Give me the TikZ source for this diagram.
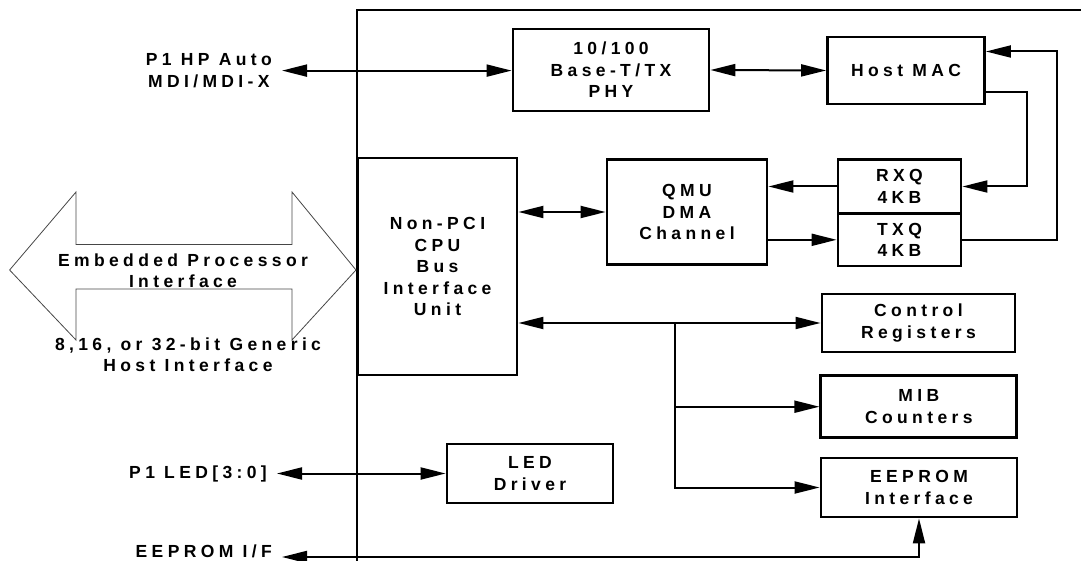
\documentclass[tikz,border=0pt]{standalone}
\usepackage{fontspec}
\setmainfont{Liberation Sans}[LetterSpace=25]
\usepackage{xcolor}
\definecolor{ink}{RGB}{0,0,0}
\definecolor{outline}{RGB}{70,70,70}
\usepackage{tikz}
\usetikzlibrary{arrows.meta,positioning,calc}
\tikzset{
  blk/.style={draw=ink, line width=2.8pt, inner sep=0pt, align=center,
              font=\fontsize{17.5}{21.5}\selectfont\bfseries},
  port/.style={inner xsep=10pt, inner ysep=0pt, align=center,
               font=\fontsize{17.5}{21.5}\selectfont\bfseries},
  conn/.style={draw=ink, line width=2pt},
  >={Triangle[length=25pt,width=12pt]},
}

\begin{document}
\begin{tikzpicture}[x=1pt,y=-1pt]
\useasboundingbox (0,0) rectangle (1081,561);
\draw[line width=2.8pt,draw=ink] (357,561) -- (357,10) -- (1081,10);

\node[blk,minimum width=196pt,minimum height=82pt] (phy) at (611,70) {10/100\\Base-T/TX\\PHY};
\node[blk,minimum width=157pt,minimum height=67pt] (mac) at (906,70.5) {Host MAC};
\node[blk,minimum width=159pt,minimum height=217pt] (biu) at (437.5,266.5) {Non-PCI\\CPU\\Bus\\Interface\\Unit};
\node[blk,minimum width=160pt,minimum height=105pt] (qmu) at (687,212) {QMU\\DMA\\Channel};
\node[blk,minimum width=123pt,minimum height=54pt] (rxq) at (899.5,186.5) {RXQ\\4KB};
\node[blk,minimum width=123pt,minimum height=52.5pt] (txq) at (899.5,239.8) {TXQ\\4KB};
\node[blk,minimum width=193pt,minimum height=58pt] (ctrl) at (918.4,323) {Control\\Registers};
\node[blk,minimum width=196pt,minimum height=62pt] (mib) at (918.8,406.7) {MIB\\Counters};
\node[blk,minimum width=196pt,minimum height=59pt] (eeprom) at (919,487.5) {EEPROM\\Interface};
\node[blk,minimum width=166pt,minimum height=59pt] (led) at (530,473.5) {LED\\Driver};

\node[port,anchor=east] (phyport) at (282,70.6) {P1 HP Auto\\MDI/MDI-X};
\node[port,anchor=east] (ledport) at (277,473.5) {P1 LED[3:0]};
\node[port,anchor=base east] (romport) at (282,557) {EEPROM I/F};

\draw[draw=outline,line width=0.8pt] (9.6,270) -- (76,192) -- (76,244.5) -- (292,244.5)
  -- (292,192) -- (356,270) -- (292,340) -- (292,289) -- (76,289) -- (76,340) -- cycle;
\node[port] (cpubus) at (183,270.6) {Embedded Processor\\Interface};
\node[port] (hostif) at (188,354.5) {8,16, or 32-bit Generic\\Host Interface};

\coordinate (macrx) at ([yshift=-21.5pt]mac.east);
\coordinate (mactx) at ([yshift=19pt]mac.east);
\coordinate (rxturn) at (1027,150);
\coordinate (txturn) at (1056.5,150);
\coordinate (tap) at (675,323);

\draw[conn,<->] (phyport.east) -- (phyport.east -| phy.west);
\draw[conn,<->] (phy.east) -- (mac.west);
\draw[conn,->] (macrx) -| (rxturn) |- (rxq.east);
\draw[conn,->] (txq.east) -| (txturn) |- (mactx);
\draw[conn,->] (rxq.west) -- (qmu.east |- rxq.west);
\draw[conn,->] (qmu.east |- txq.west) -- (txq.west);
\draw[conn,<->] (biu.east |- qmu.west) -- (qmu.west);
\draw[conn,<->] (biu.east |- ctrl.west) -- (ctrl.west);
\draw[conn,->] (tap) |- (mib.west);
\draw[conn,->] (tap) |- (eeprom.west);
\draw[conn,<->] (ledport.east) -- (led.west);
\draw[conn,<->] (romport.base east) -| (eeprom.south);
\end{tikzpicture}
\end{document}
